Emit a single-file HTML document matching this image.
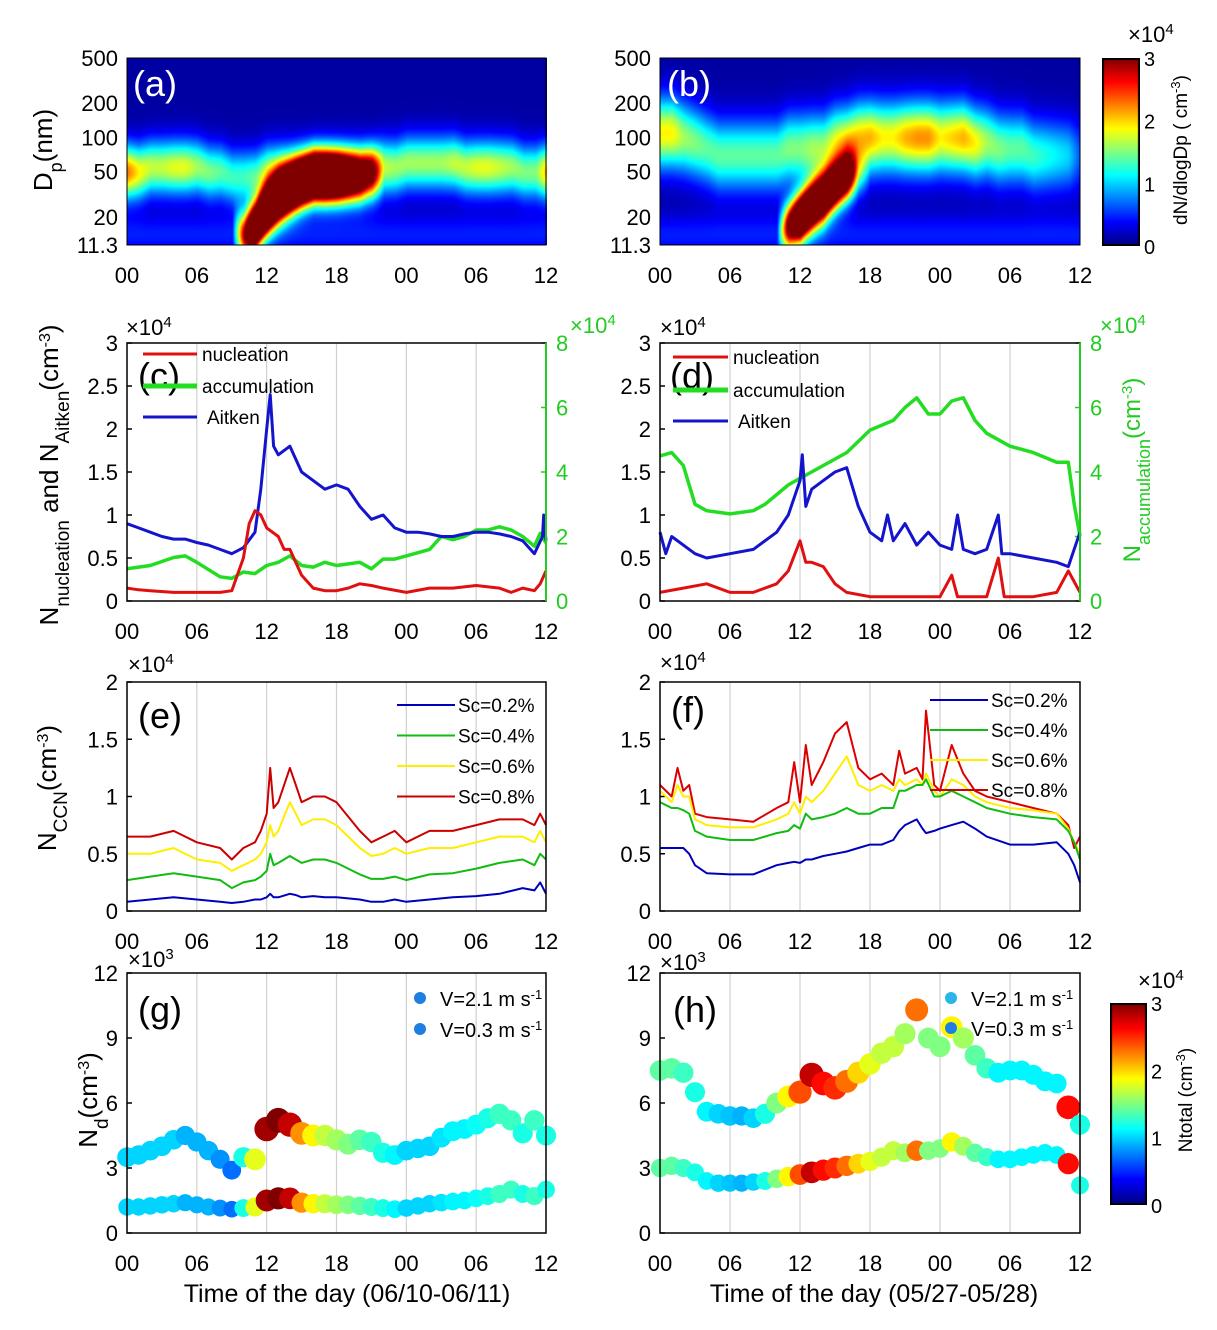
<!DOCTYPE html>
<html><head><meta charset="utf-8"><title>Aerosol time series</title>
<style>
body{margin:0;background:#fff}
#root{position:relative;width:1217px;height:1330px;font-family:"Liberation Sans",sans-serif;overflow:hidden}
canvas{position:absolute}
svg{position:absolute;left:0;top:0}
text{font-family:"Liberation Sans",sans-serif}
</style></head>
<body>
<div id="root">
<canvas id="hmA" width="420" height="187" style="left:127px;top:58px"></canvas>
<canvas id="hmB" width="420" height="187" style="left:660px;top:58px"></canvas>
<canvas id="cbTop" width="38" height="188" style="left:1102px;top:58px"></canvas>
<canvas id="cbBot" width="37" height="202" style="left:1110px;top:1003px"></canvas>
<svg id="fig" width="1217" height="1330">
 <text x="155" y="96" font-size="36" fill="#fff" text-anchor="middle">(a)</text>
 <text x="689" y="96" font-size="36" fill="#fff" text-anchor="middle">(b)</text>
 <text x="159" y="388" font-size="36" text-anchor="middle">(c)</text>
 <text x="692" y="388" font-size="36" text-anchor="middle">(d)</text>
 <text x="160" y="728" font-size="36" text-anchor="middle">(e)</text>
 <text x="688" y="722" font-size="36" text-anchor="middle">(f)</text>
 <text x="160" y="1022" font-size="36" text-anchor="middle">(g)</text>
 <text x="695" y="1022" font-size="36" text-anchor="middle">(h)</text>
 <text transform="translate(52,150) rotate(-90)" font-size="26" text-anchor="middle">D<tspan baseline-shift="sub" font-size="18">p</tspan>(nm)</text>
 <text transform="translate(58,475) rotate(-90)" font-size="26" text-anchor="middle">N<tspan baseline-shift="sub" font-size="19">nucleation</tspan> and N<tspan baseline-shift="sub" font-size="19">Aitken</tspan>(cm<tspan baseline-shift="super" font-size="16">-3</tspan>)</text>
 <text transform="translate(1140,470) rotate(-90)" font-size="24" fill="#22cc22" text-anchor="middle">N<tspan baseline-shift="sub" font-size="18">accumulation</tspan>(cm<tspan baseline-shift="super" font-size="15">-3</tspan>)</text>
 <text transform="translate(56,788) rotate(-90)" font-size="26" text-anchor="middle">N<tspan baseline-shift="sub" font-size="19">CCN</tspan>(cm<tspan baseline-shift="super" font-size="16">-3</tspan>)</text>
 <text transform="translate(97,1100) rotate(-90)" font-size="26" text-anchor="middle">N<tspan baseline-shift="sub" font-size="19">d</tspan>(cm<tspan baseline-shift="super" font-size="16">-3</tspan>)</text>
 <text transform="translate(1187,150) rotate(-90)" font-size="19" text-anchor="middle">dN/dlogDp ( cm<tspan baseline-shift="super" font-size="13">-3</tspan>)</text>
 <text transform="translate(1192,1100) rotate(-90)" font-size="19" text-anchor="middle">Ntotal (cm<tspan baseline-shift="super" font-size="13">-3</tspan>)</text>
 <text x="347" y="1302" font-size="25" text-anchor="middle">Time of the day (06/10-06/11)</text>
 <text x="874" y="1302" font-size="25" text-anchor="middle">Time of the day (05/27-05/28)</text>
</svg>
</div>
<script>
// ---------- data ----------
const hours=[0,6,12,18,24,30,36];
const hourLabels=["00","06","12","18","00","06","12"];
const dpTicks=[500,200,100,50,20,11.3];
const dpTickLabels=["500","200","100","50","20","11.3"];
const tHourly=[0,1,2,3,4,5,6,7,8,9,10,11,12,13,14,15,16,17,18,19,20,21,22,23,24,25,26,27,28,29,30,31,32,33,34,35,36];
// panel a size distribution modes
const aBandDp=[50,50,55,55,55,55,55,50,50,45,45,45,50,50,50,50,50,50,50,50,50,50,55,55,60,60,60,60,60,55,55,55,55,55,50,50,50];
const aBandAmp=[2.2,1.8,1.6,1.6,1.7,1.7,1.5,1.4,1.3,1.2,1.2,1.3,1.5,1.6,1.6,1.7,1.7,1.7,1.7,1.7,1.8,1.9,1.6,1.5,1.5,1.5,1.5,1.5,1.6,1.6,1.7,1.7,1.6,1.5,1.4,1.4,2.0];
const aNucDp=[15,15,15,15,15,15,15,15,15,15,14,17,24,30,35,40,45,45,45,45,45,50,50,50,50,50,50,50,50,50,50,50,50,50,50,50,50];
const aNucAmp=[0,0,0,0,0,0,0,0,0,0,2.5,5,6,6,5.5,5,5,5,4.5,3.5,2.5,1.5,0,0,0,0,0,0,0,0,0,0,0,0,0,0,0];
// panel b
const bBandDp=[110,110,100,90,80,70,70,70,70,70,70,80,80,80,80,90,90,100,100,100,100,100,100,100,100,100,100,90,90,80,80,80,70,70,70,70,70];
const bBandAmp=[1.8,1.8,1.5,1.4,1.3,1.3,1.3,1.3,1.3,1.3,1.3,1.4,1.4,1.5,1.5,1.7,1.9,1.9,2.0,1.8,1.8,2.0,2.1,2.1,1.8,1.9,2.0,1.8,1.5,1.4,1.3,1.3,1.2,1.1,1.0,0.9,0.5];
const bNucDp=[15,15,15,15,15,15,15,15,15,15,15,17,20,25,30,38,45,50,50,50,50,50,50,50,50,50,50,50,50,50,50,50,50,50,50,50,50];
const bNucAmp=[0,0,0,0,0,0,0,0,0,0,0,3,5,5,5,4.5,3.5,1,0,0,0,0,0,0,0,0,0,0,0,0,0,0,0,0,0,0,0];
// panel c (x1e4)
const cAitT=[0,1,2,3,4,5,6,7,8,9,10,11,11.5,12,12.3,12.6,13,14,15,16,17,18,19,20,21,22,23,24,25,26,27,28,29,30,31,32,33,34,35,35.7,35.8,36];
const cAitV=[0.9,0.85,0.8,0.75,0.72,0.72,0.68,0.65,0.6,0.55,0.62,0.8,1.3,2.0,2.4,1.8,1.7,1.8,1.5,1.4,1.3,1.35,1.3,1.1,0.95,1.0,0.85,0.8,0.8,0.78,0.75,0.75,0.78,0.8,0.8,0.78,0.75,0.7,0.55,0.75,1.0,0.7];
const cNucT=[0,1,2,4,6,8,9,10,10.5,11,11.5,12,13,13.5,14,15,16,17,18,19,20,21,22,24,26,28,30,32,33,34,35,35.5,36];
const cNucV=[0.15,0.13,0.12,0.1,0.1,0.1,0.12,0.5,0.9,1.05,1.0,0.85,0.75,0.6,0.6,0.3,0.15,0.12,0.12,0.15,0.2,0.18,0.15,0.1,0.15,0.15,0.18,0.15,0.1,0.15,0.12,0.2,0.35];
const cAccT=[0,2,4,5,6,8,9,10,11,12,13,14,15,16,17,18,20,21,22,23,24,26,27,28,29,30,31,32,33,34,35,35.5,36];
const cAccV=[1.0,1.1,1.35,1.4,1.2,0.75,0.7,0.9,0.85,1.1,1.2,1.4,1.1,1.05,1.2,1.1,1.2,1.0,1.3,1.3,1.4,1.6,2.0,1.9,2.0,2.2,2.2,2.3,2.2,2.0,1.7,2.1,1.8];
// panel d
const dAitT=[0,0.5,1,2,3,4,6,8,9,10,11,12,12.2,12.5,13,14,15,16,17,18,19,19.5,20,21,22,23,24,25,25.5,26,27,28,29,29.3,30,32,34,35,36];
const dAitV=[0.8,0.55,0.75,0.65,0.55,0.5,0.55,0.6,0.7,0.8,1.0,1.4,1.7,1.1,1.3,1.4,1.5,1.55,1.1,0.8,0.7,1.0,0.7,0.9,0.65,0.8,0.65,0.6,1.0,0.6,0.55,0.6,1.0,0.55,0.55,0.5,0.45,0.4,0.8];
const dNucT=[0,2,4,6,8,10,11,12,12.5,13,14,15,16,18,20,22,24,25,25.5,28,29,29.5,32,34,35,36];
const dNucV=[0.1,0.15,0.2,0.1,0.1,0.2,0.35,0.7,0.45,0.45,0.4,0.2,0.1,0.05,0.05,0.05,0.05,0.3,0.05,0.05,0.5,0.05,0.05,0.1,0.35,0.1];
const dAccT=[0,1,2,3,4,6,8,9,10,11,12,14,16,18,20,21,22,23,24,25,26,27,28,30,32,34,35,35.5,36];
const dAccV=[4.5,4.6,4.2,3.0,2.8,2.7,2.8,3.0,3.3,3.6,3.8,4.2,4.6,5.3,5.6,6.0,6.3,5.8,5.8,6.2,6.3,5.6,5.2,4.8,4.6,4.3,4.3,3.0,2.0];
// panel e (x1e4)
const eT=[0,2,4,6,8,9,10,11,11.5,12,12.3,12.6,13,14,14.5,15,16,17,18,20,21,22,23,24,26,28,30,32,34,35,35.5,36];
const eSc08=[0.65,0.65,0.7,0.6,0.55,0.45,0.55,0.6,0.7,0.85,1.25,0.9,0.95,1.25,1.1,0.95,1.0,1.0,0.95,0.7,0.6,0.65,0.7,0.6,0.7,0.7,0.75,0.8,0.8,0.75,0.85,0.75];
const eSc06=[0.5,0.5,0.55,0.45,0.42,0.35,0.4,0.45,0.5,0.6,0.75,0.65,0.7,0.95,0.85,0.75,0.8,0.8,0.75,0.55,0.48,0.5,0.55,0.5,0.55,0.55,0.6,0.65,0.65,0.6,0.7,0.6];
const eSc04=[0.27,0.3,0.33,0.3,0.27,0.2,0.25,0.27,0.3,0.35,0.5,0.4,0.42,0.48,0.45,0.42,0.45,0.45,0.42,0.32,0.28,0.28,0.3,0.27,0.32,0.33,0.37,0.42,0.45,0.4,0.5,0.45];
const eSc02=[0.08,0.1,0.12,0.1,0.08,0.07,0.08,0.1,0.1,0.12,0.15,0.12,0.12,0.15,0.14,0.12,0.13,0.12,0.12,0.1,0.08,0.08,0.1,0.08,0.1,0.12,0.13,0.15,0.2,0.18,0.25,0.15];
// panel f
const fT=[0,1,1.5,2,2.5,3,4,6,8,10,11,11.5,12,12.5,13,14,15,16,17,18,19,20,20.5,21,22,22.5,22.8,23.5,24,25,26,27,28,30,32,34,35,35.5,36];
const fSc08=[1.1,1.0,1.25,1.05,1.1,0.85,0.82,0.8,0.78,0.9,0.95,1.3,0.95,1.45,1.1,1.3,1.55,1.65,1.25,1.15,1.2,1.1,1.4,1.2,1.25,1.15,1.75,1.1,1.05,1.45,1.2,1.05,1.0,0.95,0.9,0.85,0.75,0.55,0.65];
const fSc06=[1.05,0.95,1.1,1.0,1.0,0.8,0.75,0.73,0.73,0.8,0.85,0.95,0.85,1.0,0.95,1.05,1.2,1.35,1.1,1.05,1.1,1.05,1.15,1.1,1.15,1.1,1.2,1.05,1.0,1.15,1.1,1.0,0.95,0.9,0.88,0.85,0.72,0.6,0.5];
const fSc04=[0.95,0.9,0.9,0.88,0.85,0.7,0.65,0.62,0.62,0.68,0.7,0.75,0.72,0.85,0.8,0.82,0.85,0.9,0.85,0.85,0.9,0.9,1.05,1.05,1.1,1.1,1.15,1.0,1.0,1.05,1.0,0.95,0.9,0.85,0.82,0.8,0.7,0.6,0.45];
const fSc02=[0.55,0.55,0.55,0.55,0.5,0.4,0.33,0.32,0.32,0.4,0.42,0.43,0.42,0.45,0.45,0.48,0.5,0.52,0.55,0.58,0.58,0.62,0.7,0.75,0.8,0.72,0.68,0.7,0.72,0.75,0.78,0.72,0.65,0.58,0.58,0.6,0.5,0.4,0.25];
// panel g (Nd x1e3, Ntotal x1e4)
const gUp=[3.5,3.6,3.8,4.0,4.3,4.5,4.2,3.8,3.4,2.9,3.5,3.4,4.8,5.2,5.0,4.6,4.5,4.5,4.3,4.1,4.3,4.2,3.7,3.6,3.8,3.9,4.0,4.4,4.7,4.8,5.0,5.3,5.5,5.2,4.6,5.2,4.5];
const gLo=[1.2,1.2,1.25,1.3,1.35,1.4,1.3,1.2,1.15,1.1,1.15,1.2,1.5,1.6,1.6,1.4,1.35,1.35,1.3,1.3,1.25,1.2,1.15,1.1,1.15,1.25,1.35,1.4,1.45,1.5,1.6,1.7,1.8,2.0,1.8,1.7,2.0];
const gTot=[1.0,1.0,1.0,1.0,1.0,0.9,0.9,0.9,0.8,0.7,1.2,1.8,2.9,3.0,2.8,2.2,1.9,1.7,1.6,1.5,1.4,1.3,1.2,1.1,1.0,1.0,1.0,1.05,1.1,1.1,1.15,1.2,1.3,1.3,1.2,1.3,1.2];
// panel h
const hUp=[7.5,7.6,7.4,6.5,5.6,5.5,5.4,5.4,5.3,5.5,6.0,6.3,6.5,7.3,6.9,6.7,7.0,7.4,7.8,8.3,8.6,9.2,10.3,9.0,8.6,9.5,9.0,8.2,7.6,7.4,7.5,7.5,7.3,7.0,6.9,5.8,5.0];
const hLo=[3.0,3.1,3.0,2.8,2.4,2.3,2.3,2.3,2.35,2.4,2.5,2.6,2.7,2.8,2.9,3.0,3.1,3.2,3.3,3.5,3.8,3.7,3.8,3.8,3.9,4.2,4.0,3.7,3.5,3.4,3.4,3.5,3.6,3.7,3.6,3.2,2.2];
const hTot=[1.4,1.4,1.3,1.2,1.1,1.0,0.95,0.9,1.0,1.2,1.5,1.9,2.4,2.8,2.6,2.5,2.3,2.0,1.8,1.7,1.7,1.6,2.3,1.5,1.5,1.9,1.6,1.4,1.3,1.1,1.1,1.1,1.1,1.1,1.1,2.6,1.2];
// ticks
const cLeftTicks=[0,0.5,1,1.5,2,2.5,3];
const cLeftLabels=["0","0.5","1","1.5","2","2.5","3"];
const cRightTicks=[0,2,4,6,8];
const eTicks=[0,0.5,1,1.5,2];
const eLabels=["0","0.5","1","1.5","2"];
const gTicks=[0,3,6,9,12];
const cbTicks=[0,1,2,3];

// ---------- helpers ----------
const NS='http://www.w3.org/2000/svg';
const svg=document.getElementById('fig');
function mk(tag){const e=document.createElementNS(NS,tag);svg.appendChild(e);return e;}
function at(e,o){for(const k in o)e.setAttribute(k,o[k]);return e;}
function jet(v){v=Math.max(0,Math.min(1,v));const c=x=>Math.round(255*Math.max(0,Math.min(1,1.5-Math.abs(x))));return [c(4*v-3),c(4*v-2),c(4*v-1)];}
function jetS(v){const c=jet(v);return 'rgb('+c.join(',')+')';}
function interp(ts,vs,t){if(t<=ts[0])return vs[0];for(let i=1;i<ts.length;i++){if(t<=ts[i]){const f=(t-ts[i-1])/(ts[i]-ts[i-1]);return vs[i-1]+f*(vs[i]-vs[i-1]);}}return vs[vs.length-1];}
const P={
 a:{x0:127,x1:546,y0:58,y1:245},b:{x0:660,x1:1080,y0:58,y1:245},
 c:{x0:127,x1:546,y0:343,y1:601},d:{x0:660,x1:1080,y0:343,y1:601},
 e:{x0:127,x1:546,y0:682,y1:911},f:{x0:660,x1:1080,y0:682,y1:911},
 g:{x0:127,x1:546,y0:973,y1:1233},h:{x0:660,x1:1080,y0:973,y1:1233}};
function sx(p,t){return p.x0+t/36*(p.x1-p.x0);}
function sy(p,v,lo,hi){return p.y1-(v-lo)/(hi-lo)*(p.y1-p.y0);}
function txt(s,x,y,fs,anchor,fill){const e=mk('text');e.textContent=s;at(e,{x:x,y:y,'font-size':fs,'text-anchor':anchor,fill:fill});return e;}

// ---------- heatmaps ----------
function heat(id,bDp,bAmp,bSig,nDp,nAmp){
 const cv=document.getElementById(id),ctx=cv.getContext('2d');const W=cv.width,H=cv.height;
 const img=ctx.createImageData(W,H);const L1=Math.log(500),L0=Math.log(11.3);
 for(let px=0;px<W;px++){const t=px/W*36;
  const bd=Math.log(interp(tHourly,bDp,t)),ba=interp(tHourly,bAmp,t),nd=Math.log(interp(tHourly,nDp,t)),na=interp(tHourly,nAmp,t);
  for(let py=0;py<H;py++){const ld=L1-py/H*(L1-L0);
   let v=0.1+0.35*Math.exp(-Math.pow(ld-Math.log(14),2)/(2*0.3*0.3));
   v+=ba*Math.exp(-Math.pow(ld-bd,2)/(2*bSig*bSig));
   v+=na*Math.exp(-Math.pow(ld-nd,2)/(2*0.33*0.33));
   const c=jet(v/3);const k=(py*W+px)*4;img.data[k]=c[0];img.data[k+1]=c[1];img.data[k+2]=c[2];img.data[k+3]=255;}}
 ctx.putImageData(img,0,0);}
heat('hmA',aBandDp,aBandAmp,0.38,aNucDp,aNucAmp);
heat('hmB',bBandDp,bBandAmp,0.5,bNucDp,bNucAmp);
function cbar(id){const cv=document.getElementById(id),ctx=cv.getContext('2d');for(let y=0;y<cv.height;y++){ctx.fillStyle=jetS(1-y/(cv.height-1));ctx.fillRect(0,y,cv.width,1);}ctx.strokeStyle='#000';ctx.lineWidth=2;ctx.strokeRect(1,1,cv.width-2,cv.height-2);}
cbar('cbTop');cbar('cbBot');

// ---------- grids & frames ----------
['c','d','e','f','g','h'].forEach(k=>{const p=P[k];
 for(let i=1;i<hours.length-1;i++){const l=mk('line');at(l,{x1:sx(p,hours[i]),x2:sx(p,hours[i]),y1:p.y0,y2:p.y1,stroke:'#d0d0d0','stroke-width':1.2});
  
  }
});
// x tick labels
Object.keys(P).forEach(k=>{const p=P[k];
 hours.forEach((h,i)=>{const t=txt(hourLabels[i],sx(p,h),p.y1+38,22,'middle','#000');
  
  });
});
// dp ticks
['a','b'].forEach(k=>{const p=P[k];const L1=Math.log(500),L0=Math.log(11.3);
 dpTicks.forEach((d,i)=>{const y=p.y0+(L1-Math.log(d))/(L1-L0)*(p.y1-p.y0);const t=txt(dpTickLabels[i],p.x0-9,y+8,22,'end','#000');
  
  });
 const fr=mk('rect');at(fr,{x:p.x0,y:p.y0,width:p.x1-p.x0,height:p.y1-p.y0,fill:'none',stroke:'#000','stroke-width':1});
 
 
});
function yTicks(p,ticks,labels,lo,hi,side,color){
 ticks.forEach((v,i)=>{const y=sy(p,v,lo,hi);const x=side==='left'?p.x0-9:p.x1+10;
  const t=txt(labels[i],x,y+8,22,side==='left'?'end':'start',color);
  
  
  const tk=mk('line');at(tk,{x1:side==='left'?p.x0:p.x1,x2:side==='left'?p.x0+5:p.x1-5,y1:y,y2:y,stroke:color==='#000'?'#000':color,'stroke-width':1.5});
  
  });
}
['c','d'].forEach(k=>{yTicks(P[k],cLeftTicks,cLeftLabels,0,3,'left','#000');yTicks(P[k],cRightTicks,cRightTicks.map(String),0,8,'right','#22cc22');});
['e','f'].forEach(k=>yTicks(P[k],eTicks,eLabels,0,2,'left','#000'));
['g','h'].forEach(k=>yTicks(P[k],gTicks,gTicks.map(String),0,12,'left','#000'));
// exponent labels
function expo(x,y,base,pw,color,name){const t=mk('text');at(t,{x:x,y:y,'font-size':22,fill:color});t.textContent='×'+base;const s=document.createElementNS(NS,'tspan');at(s,{'baseline-shift':'super','font-size':15});s.textContent=pw;t.appendChild(s);
 
 }
expo(126,335,'10','4','#000','exponent-left-c');expo(570,333,'10','4','#22cc22','exponent-right-c');
expo(660,335,'10','4','#000','exponent-left-d');expo(1100,333,'10','4','#22cc22','exponent-right-d');
expo(128,672,'10','4','#000','exponent-e');expo(660,670,'10','4','#000','exponent-f');
expo(128,967,'10','3','#000','exponent-g');expo(660,970,'10','3','#000','exponent-h');
expo(1128,42,'10','4','#000','exponent-colorbar-top');expo(1138,988,'10','4','#000','exponent-colorbar-bottom');
cbTicks.forEach(v=>{const t1=txt(String(v),1144,246-v/3*188+8,20,'start','#000');
 
 
 const t2=txt(String(v),1151,1205-v/3*202+8,20,'start','#000');
 
 });

// ---------- lines ----------
function line(p,ts,vs,lo,hi,color,w,name){let d='';ts.forEach((t,i)=>{d+=(i?'L':'M')+sx(p,t).toFixed(1)+','+sy(p,vs[i],lo,hi).toFixed(1);});
 const e=mk('path');at(e,{d:d,fill:'none',stroke:color,'stroke-width':w,'stroke-linejoin':'round'});
 
 }
line(P.c,cAccT,cAccV,0,8,'#22dd22',3.5,'accumulation-line-c');
line(P.c,cAitT,cAitV,0,3,'#1414cc',3,'aitken-line-c');
line(P.c,cNucT,cNucV,0,3,'#e01010',3,'nucleation-line-c');
line(P.d,dAccT,dAccV,0,8,'#22dd22',3.5,'accumulation-line-d');
line(P.d,dAitT,dAitV,0,3,'#1414cc',3,'aitken-line-d');
line(P.d,dNucT,dNucV,0,3,'#e01010',3,'nucleation-line-d');
line(P.e,eT,eSc08,0,2,'#cc0000',2,'sc08-line-e');
line(P.e,eT,eSc06,0,2,'#ffee00',2,'sc06-line-e');
line(P.e,eT,eSc04,0,2,'#11bb11',2,'sc04-line-e');
line(P.e,eT,eSc02,0,2,'#0000bb',2,'sc02-line-e');
line(P.f,fT,fSc08,0,2,'#dd0000',2,'sc08-line-f');
line(P.f,fT,fSc06,0,2,'#ffee00',2,'sc06-line-f');
line(P.f,fT,fSc04,0,2,'#11bb11',2,'sc04-line-f');
line(P.f,fT,fSc02,0,2,'#0000bb',2,'sc02-line-f');

// ---------- scatter ----------
function scatter(p,vals,tot,base,scale,name){tHourly.forEach((t,i)=>{const c=mk('circle');at(c,{cx:sx(p,t),cy:sy(p,vals[i],0,12),r:base+tot[i]*scale,fill:jetS(tot[i]/3)});
 
 });}
scatter(P.g,gLo,gTot,7.5,1.2,'nd-point-v03');scatter(P.g,gUp,gTot,8.5,1.3,'nd-point-v21');
scatter(P.h,hLo,hTot,7.5,1.2,'nd-point-v03');scatter(P.h,hUp,hTot,8.5,1.3,'nd-point-v21');

// frames for line panels
['c','d','e','f','g','h'].forEach(k=>{const p=P[k];const fr=mk('rect');at(fr,{x:p.x0,y:p.y0,width:p.x1-p.x0,height:p.y1-p.y0,fill:'none',stroke:'#000','stroke-width':1.5});
 
 });
['c','d'].forEach(k=>{const p=P[k];const r=mk('line');at(r,{x1:p.x1,x2:p.x1,y1:p.y0,y2:p.y1,stroke:'#22cc22','stroke-width':2});
 
 });

// ---------- legends ----------
function legLine(x1,x2,y,color,w,label,tx,name){const l=mk('line');at(l,{x1:x1,x2:x2,y1:y,y2:y,stroke:color,'stroke-width':w});
 
 
 const t=txt(label,tx,y+7,19,'start','#000');
 
 }
legLine(143,197,354,'#e01010',3,'nucleation',202,'legend-nucleation-c');
legLine(143,197,386,'#22dd22',5,'accumulation',202,'legend-accumulation-c');
legLine(143,197,417,'#1414cc',3,'Aitken',207,'legend-aitken-c');
legLine(673,728,357,'#e01010',3,'nucleation',733,'legend-nucleation-d');
legLine(673,728,390,'#22dd22',5,'accumulation',733,'legend-accumulation-d');
legLine(673,728,421,'#1414cc',3,'Aitken',738,'legend-aitken-d');
const scCol=['#0000bb','#11bb11','#ffee00','#cc0000'],scLab=['Sc=0.2%','Sc=0.4%','Sc=0.6%','Sc=0.8%'];
scLab.forEach((s,i)=>{legLine(397,455,705+i*30.5,scCol[i],2,s,458,'legend-sc-e');legLine(930,988,700+i*30,scCol[i],2,s,991,'legend-sc-f');});
function legDot(x,y,color,label,name){const c=mk('circle');at(c,{cx:x,cy:y,r:6,fill:color});
 
 
 const t=mk('text');at(t,{x:x+20,y:y+8,'font-size':20});t.textContent=label;const s=document.createElementNS(NS,'tspan');at(s,{'baseline-shift':'super','font-size':13});s.textContent='-1';t.appendChild(s);
 
 }
legDot(420,998,'#1f7fe0','V=2.1 m s','legend-v21-g');legDot(420,1029,'#1f7fe0','V=0.3 m s','legend-v03-g');
legDot(951,998,'#29b5e8','V=2.1 m s','legend-v21-h');legDot(951,1028,'#1f7fe0','V=0.3 m s','legend-v03-h');
</script>
</body></html>
